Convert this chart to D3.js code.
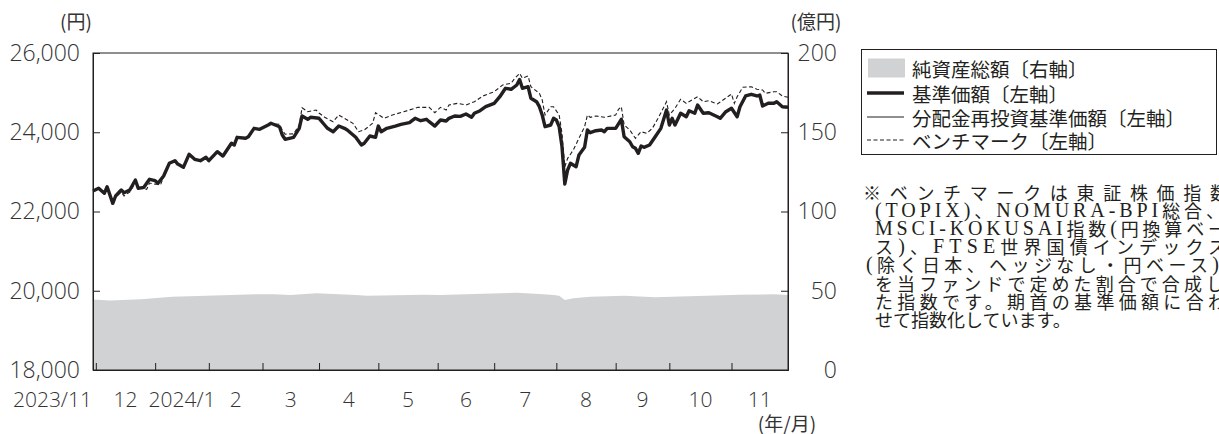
<!DOCTYPE html>
<html>
<head>
<meta charset="utf-8">
<script src="https://cdn.jsdelivr.net/npm/d3@7"></script>
<style>
  html, body { margin: 0; padding: 0; background: #fff; }
  svg { display: block; }
</style>
</head>
<body>
<svg id="chart" width="1219" height="434"></svg>
<script>
// Trading-day index: 0 = first business day of the period, lastDay = final day.
const lastDay = 246;
const monthStartDays = [1, 22, 41, 60, 80, 101, 122, 142, 164, 185, 204, 226];
const monthLabels = ["2023/11", "12", "2024/1", "2", "3", "4", "5", "6", "7", "8", "9", "10", "11"];

const leftTicks = [18000, 20000, 22000, 24000, 26000];
const rightTicks = [0, 50, 100, 150, 200];

// 基準価額 (円)
const navDays = [0,2,4,5,7,8,10,11,13,15,16,18,20,22,23,25,27,29,30,32,34,36,38,40,41,44,46,47,49,50,51,54,55,57,59,62,63,66,67,68,71,73,74,76,77,80,82,83,85,87,89,90,93,95,96,98,100,101,102,104,107,109,112,114,116,118,119,121,123,125,126,128,130,132,134,135,137,139,142,144,146,148,150,151,152,154,155,157,158,159,160,162,163,164,165,166,167,168,169,171,172,174,175,176,178,180,181,182,185,187,188,190,191,192,193,194,195,197,199,201,203,204,205,206,208,210,211,213,214,216,218,221,222,224,226,228,229,231,233,235,236,237,239,241,242,244,246];
const navValues = [22517,22585,22459,22625,22206,22391,22542,22474,22542,22795,22585,22610,22812,22777,22711,22895,23216,23282,23198,23115,23443,23317,23282,23367,23282,23509,23400,23509,23721,23678,23872,23847,23887,24099,24074,24183,24226,24140,23930,23822,23872,24099,24410,24327,24377,24352,24183,24099,24014,24157,24099,24057,23872,23678,23721,23905,23872,24157,24014,24099,24157,24200,24241,24352,24291,24327,24266,24157,24309,24284,24352,24410,24400,24460,24377,24478,24544,24645,24730,24897,25109,25084,25192,25331,25109,25149,24857,24771,24645,24435,24140,24183,24352,24309,24140,23640,22694,23047,23216,23130,23426,23620,24057,23988,24039,24057,24014,24099,24099,24327,23887,23761,23635,23595,23468,23653,23620,23678,23887,24099,24561,24183,24352,24183,24478,24392,24544,24478,24688,24478,24493,24392,24352,24518,24604,24392,24645,24915,24958,24915,24940,24662,24730,24730,24771,24645,24630];

// 分配金再投資基準価額 (円): no distributions were paid in the period,
// so it runs on the same values as 基準価額.
const reinvestDays = navDays;
const reinvestValues = navValues;

// ベンチマーク (円)
const benchDays = [0,2,4,5,7,8,10,11,13,15,17,19,20,22,24,25,27,29,30,32,34,36,38,40,41,44,46,47,49,50,51,54,55,57,59,62,63,66,67,68,71,73,74,76,79,80,82,85,87,89,92,94,96,99,100,103,106,110,115,119,121,123,125,126,129,132,135,138,142,145,148,149,151,152,154,155,158,159,160,162,163,165,166,167,168,170,172,174,175,176,178,181,185,186,187,188,190,192,194,196,198,200,203,204,206,208,210,212,214,216,218,221,223,226,227,228,230,233,235,237,238,241,242,244,246];
const benchValues = [22517,22585,22459,22618,22240,22366,22492,22391,22492,22719,22585,22560,22719,22690,22694,22870,23210,23272,23190,23105,23433,23307,23272,23357,23272,23499,23390,23499,23711,23668,23862,23837,23877,24089,24064,24173,24216,24200,24050,23950,23960,24180,24619,24518,24561,24486,24377,24266,24435,24352,24226,24014,24057,24226,24493,24352,24435,24518,24629,24629,24493,24629,24561,24688,24730,24688,24771,24915,25023,25192,25235,25336,25488,25361,25419,25149,24983,24814,24435,24645,24645,24435,23973,23130,23342,23552,23847,24140,24435,24377,24410,24377,24435,24579,24645,24183,24057,23847,24014,23973,24099,24352,24771,24435,24604,24831,24730,24814,24897,24771,24796,24713,24814,24965,24730,24897,25134,25149,25084,25066,24983,25023,25023,24915,24882];

// 純資産総額 (億円)
const assetDays = [0,6,17,28,40,58,64,70,79,93,97,117,123,135,150,158,163,165,167,170,176,188,199,205,217,229,241,246];
const assetValues = [44.5,43.8,44.6,46.2,46.9,47.8,47.8,47.3,48.4,47.3,46.9,47.5,47.3,47.9,48.8,47.9,47.3,46.8,44.2,45.2,46.2,46.9,45.9,46.2,46.9,47.5,47.8,47.3];

const legendLabels = ["純資産総額〔右軸〕", "基準価額〔左軸〕", "分配金再投資基準価額〔左軸〕", "ベンチマーク〔左軸〕"];
const noteLines = [
  "※ベンチマークは東証株価指数",
  "(TOPIX)、NOMURA-BPI総合、",
  "MSCI-KOKUSAI指数(円換算ベー",
  "ス)、FTSE世界国債インデックス",
  "(除く日本、ヘッジなし・円ベース)",
  "を当ファンドで定めた割合で合成し",
  "た指数です。期首の基準価額に合わ",
  "せて指数化しています。"
];

const INK = "#231f20";
const AREA_FILL = "#d1d2d4";
const NUM_FONT = "'Open Sans', 'DejaVu Sans', sans-serif";
const JP_FONT = "'Noto Sans CJK JP', sans-serif";
const SERIF_FONT = "'Liberation Serif', serif";

const svg = d3.select("#chart");
const margin = { left: 93, right: 431, top: 53, bottom: 64 };
const W = +svg.attr("width"), H = +svg.attr("height");

const x = d3.scaleLinear().domain([0, lastDay]).range([margin.left, W - margin.right]);
const yL = d3.scaleLinear().domain([18000, 26000]).range([H - margin.bottom, margin.top]);
const yR = d3.scaleLinear().domain([0, 200]).range([H - margin.bottom, margin.top]);

const pairs = (days, vals) => days.map((d, i) => ({ day: d, v: vals[i] }));

// net assets area on the right axis
svg.append("path")
  .datum(pairs(assetDays, assetValues))
  .attr("fill", AREA_FILL)
  .attr("d", d3.area().x(d => x(d.day)).y0(yR(0)).y1(d => yR(d.v)));

const lineL = d3.line().x(d => x(d.day)).y(d => yL(d.v));

// benchmark (dashed)
svg.append("path")
  .datum(pairs(benchDays, benchValues))
  .attr("fill", "none").attr("stroke", INK).attr("stroke-width", 1.1)
  .attr("stroke-dasharray", "4,2.5")
  .attr("d", lineL);

// reinvested NAV (thin)
svg.append("path")
  .datum(pairs(reinvestDays, reinvestValues))
  .attr("fill", "none").attr("stroke", INK).attr("stroke-width", 1)
  .attr("d", lineL);

// NAV (thick)
svg.append("path")
  .datum(pairs(navDays, navValues))
  .attr("fill", "none").attr("stroke", INK).attr("stroke-width", 3.4)
  .attr("stroke-linejoin", "round")
  .attr("d", lineL);

// frame
svg.append("rect")
  .attr("x", x(0)).attr("y", yL(26000))
  .attr("width", x(lastDay) - x(0)).attr("height", yL(18000) - yL(26000))
  .attr("fill", "none").attr("stroke", INK).attr("stroke-width", 1);

function styleAxis(g, size) {
  g.select(".domain").attr("stroke", INK);
  g.selectAll(".tick line").attr("stroke", INK);
  g.selectAll(".tick text")
    .attr("fill", "#333")
    .style("font-family", NUM_FONT)
    .style("font-weight", 300)
    .style("font-size", size + "px");
}

// left axis
svg.append("g")
  .attr("transform", `translate(${x(0)},0)`)
  .call(d3.axisLeft(yL).tickValues(leftTicks).tickSize(-7).tickPadding(13).tickFormat(d3.format(",")))
  .call(styleAxis, 23);

// right axis
const gR = svg.append("g")
  .attr("transform", `translate(${x(lastDay)},0)`)
  .call(d3.axisRight(yR).tickValues(rightTicks).tickSize(-7).tickPadding(49).tickFormat(d3.format("d")))
  .call(styleAxis, 23);
gR.selectAll(".tick text").attr("text-anchor", "end");

// bottom axis: month boundaries
svg.append("g")
  .attr("transform", `translate(0,${yL(18000)})`)
  .call(d3.axisBottom(x).tickValues(monthStartDays).tickSize(-7).tickFormat(""))
  .call(styleAxis, 21);

// month labels, centred within each month
const bounds = monthStartDays.concat([lastDay]);
const labelY = yL(18000) + 30;
monthLabels.forEach((lab, i) => {
  const t = svg.append("text")
    .attr("y", labelY)
    .attr("fill", "#333")
    .style("font-family", NUM_FONT)
    .style("font-weight", 300)
    .style("font-size", "21px")
    .attr("dy", "0.32em")
    .text(lab);
  if (i === 0) {
    t.attr("x", x(0) - 1).attr("text-anchor", "end");
  } else {
    t.attr("x", x((bounds[i - 1] + bounds[i]) / 2)).attr("text-anchor", "middle");
  }
});

// unit captions
function jpText(txt, cx, cy, size) {
  return svg.append("text")
    .attr("x", cx).attr("y", cy)
    .attr("text-anchor", "middle")
    .attr("dominant-baseline", "central")
    .attr("fill", "#333")
    .style("font-family", JP_FONT)
    .style("font-size", size + "px")
    .text(txt);
}
jpText("(円)", 76, 20, 19);
jpText("(億円)", 816, 20, 19);
jpText("(年/月)", 787, 422, 19);

// legend
const lg = svg.append("g");
lg.append("rect").attr("x", 861.5).attr("y", 49.5).attr("width", 355).attr("height", 105)
  .attr("fill", "#fff").attr("stroke", INK).attr("stroke-width", 1);
const rowY = [68, 93, 117, 140];
lg.append("rect").attr("x", 868).attr("y", rowY[0] - 9.5).attr("width", 37).attr("height", 19).attr("fill", AREA_FILL);
lg.append("line").attr("x1", 867).attr("x2", 904).attr("y1", rowY[1]).attr("y2", rowY[1])
  .attr("stroke", INK).attr("stroke-width", 3.4);
lg.append("line").attr("x1", 867).attr("x2", 904).attr("y1", rowY[2]).attr("y2", rowY[2])
  .attr("stroke", INK).attr("stroke-width", 1);
lg.append("line").attr("x1", 867).attr("x2", 904).attr("y1", rowY[3]).attr("y2", rowY[3])
  .attr("stroke", INK).attr("stroke-width", 1.1).attr("stroke-dasharray", "4,2.5");
legendLabels.forEach((lab, i) => {
  lg.append("text")
    .attr("x", 912).attr("y", rowY[i])
    .attr("dominant-baseline", "central")
    .attr("fill", INK)
    .style("font-family", JP_FONT)
    .style("font-size", "19.5px")
    .text(lab);
});

// benchmark note: justified lines; Latin runs set in a serif face.
// Each run is its own text element, laid out side by side with a shared
// letter-spacing so the line spans its target width.
const noteX = [863, 875, 875, 875, 866, 875, 875, 875];
const noteEnd = [1228, 1224, 1226, 1226, 1219, 1224, 1226, null];
const isLatin = s => /^[A-Za-z()\-]+$/.test(s);
noteLines.forEach((ln, i) => {
  const y = 192 + i * 18.1;
  const g = svg.append("g");
  const runs = ln.split(/([A-Za-z()\-]+)/).filter(s => s.length);
  const nodes = runs.map(run => g.append("text")
    .attr("y", y)
    .attr("dominant-baseline", "central")
    .attr("fill", INK)
    .style("font-family", isLatin(run) ? SERIF_FONT : JP_FONT)
    .style("font-size", isLatin(run) ? "20px" : "18px")
    .text(run));
  const widths = nodes.map(n => n.node().getComputedTextLength());
  const natural = d3.sum(widths);
  const nChars = Array.from(ln).length;
  const ls = noteEnd[i] ? (noteEnd[i] - noteX[i] - natural) / (nChars - 1) : 0;
  let cx = noteX[i];
  nodes.forEach((n, k) => {
    n.attr("x", cx).style("letter-spacing", ls + "px");
    cx += widths[k] + ls * Array.from(runs[k]).length;
  });
});
</script>
</body>
</html>
